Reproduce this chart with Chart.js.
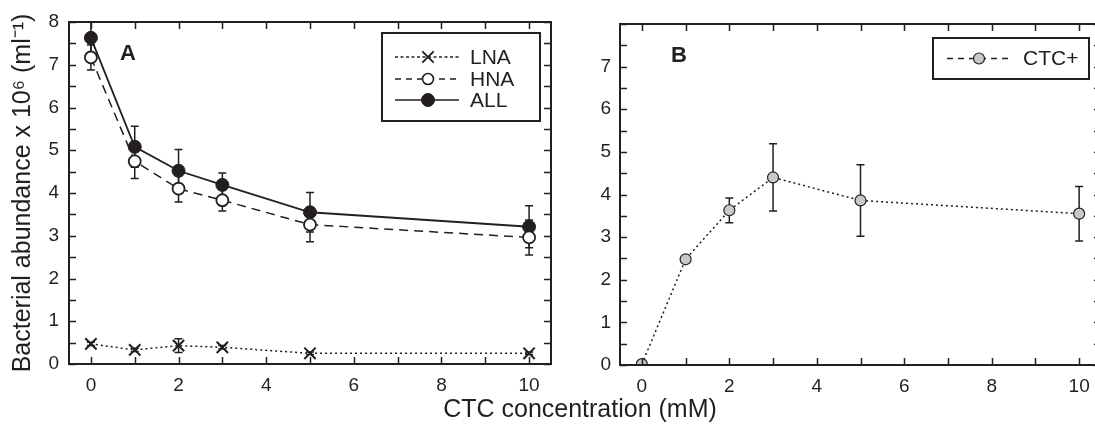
<!DOCTYPE html>
<html>
<head>
<meta charset="utf-8">
<script src="https://cdn.jsdelivr.net/npm/chart.js@4.4.0/dist/chart.umd.min.js"></script>
<style>
html, body { margin: 0; padding: 0; background: #fff; overflow: hidden; }
#wrap { position: relative; width: 1095px; height: 426px; overflow: hidden; }
canvas { position: absolute; top: 0; }
#chartA { left: 0; }
#chartB { left: 560px; }
#xTitle {
  position: absolute; left: 380px; width: 400px; top: 394px; line-height: 28px;
  text-align: center; font-size: 25px; font-family: "Liberation Sans", Arial, Helvetica, sans-serif; color: #231f20;
}
</style>
</head>
<body>
<div id="wrap">
  <canvas id="chartA" width="570" height="426"></canvas>
  <canvas id="chartB" width="560" height="426"></canvas>
  <div id="xTitle">CTC concentration (mM)</div>
</div>
<script>
// data
var conc = [0, 1, 2, 3, 5, 10];

var lna = [0.47, 0.33, 0.43, 0.39, 0.25, 0.25];
var lnaErr = [0.04, 0.04, 0.16, 0.04, 0.03, 0.03];
var hna = [7.17, 4.74, 4.1, 3.83, 3.26, 2.96];
var hnaErr = [0.29, 0.4, 0.31, 0.25, 0.4, 0.41];
var all = [7.63, 5.08, 4.52, 4.19, 3.55, 3.21];
var allErr = [0.4, 0.48, 0.5, 0.28, 0.46, 0.49];

var ctc = [0.02, 2.48, 3.63, 4.4, 3.86, 3.55];
var ctcErr = [0, 0, 0.29, 0.79, 0.84, 0.64];

var xTickValues = [0, 1, 2, 3, 4, 5, 6, 7, 8, 9, 10];
var xTickLabels = ["0", "", "2", "", "4", "", "6", "", "8", "", "10"];
var yTickValues = [0, 0.5, 1, 1.5, 2, 2.5, 3, 3.5, 4, 4.5, 5, 5.5, 6, 6.5, 7, 7.5, 8];
var yTickLabelsA = ["0", "", "1", "", "2", "", "3", "", "4", "", "5", "", "6", "", "7", "", "8"];
var yTickLabelsB = ["0", "", "1", "", "2", "", "3", "", "4", "", "5", "", "6", "", "7", "", ""];

var ink = "#231f20";
var gray = "#c8c8c8";
var fontFam = '"Liberation Sans", Arial, Helvetica, sans-serif';

Chart.defaults.font.family = fontFam;
Chart.defaults.color = ink;

function pts(xs, ys) {
  return xs.map(function (x, i) { return { x: x, y: ys[i] }; });
}

// error bars, frame, inward ticks, legend box, panel letter
var decoPlugin = {
  id: "deco",
  beforeDatasetsDraw: function (chart) {
    var ctx = chart.ctx, a = chart.chartArea;
    var xs = chart.scales.x, ys = chart.scales.y;
    ctx.save();
    ctx.beginPath();
    ctx.rect(a.left, a.top - 1, a.right - a.left, a.bottom - a.top + 2);
    ctx.clip();
    ctx.strokeStyle = ink;
    ctx.lineWidth = 1.5;
    ctx.setLineDash([]);
    chart.data.datasets.forEach(function (ds) {
      if (!ds.errs) return;
      ds.data.forEach(function (p, i) {
        var e = ds.errs[i];
        if (!e) return;
        var px = xs.getPixelForValue(p.x);
        var y1 = ys.getPixelForValue(p.y + e);
        var y2 = ys.getPixelForValue(p.y - e);
        ctx.beginPath();
        ctx.moveTo(px, y1); ctx.lineTo(px, y2);
        ctx.moveTo(px - 4, y1); ctx.lineTo(px + 4, y1);
        ctx.moveTo(px - 4, y2); ctx.lineTo(px + 4, y2);
        ctx.stroke();
      });
    });
    ctx.restore();
  },
  afterDraw: function (chart, args, opts) {
    var ctx = chart.ctx, a = chart.chartArea;
    var xs = chart.scales.x, ys = chart.scales.y;
    ctx.save();
    ctx.strokeStyle = ink;
    ctx.setLineDash([]);
    // frame
    ctx.lineWidth = 2;
    ctx.strokeRect(a.left, a.top, a.right - a.left, a.bottom - a.top);
    // ticks pointing in
    ctx.lineWidth = 1.5;
    ctx.beginPath();
    xTickValues.forEach(function (v) {
      var px = Math.round(xs.getPixelForValue(v)) + 0.5;
      ctx.moveTo(px, a.bottom); ctx.lineTo(px, a.bottom - 7);
      ctx.moveTo(px, a.top); ctx.lineTo(px, a.top + 7);
    });
    yTickValues.forEach(function (v) {
      var py = Math.round(ys.getPixelForValue(v)) + 0.5;
      ctx.moveTo(a.left, py); ctx.lineTo(a.left + 7, py);
      ctx.moveTo(a.right, py); ctx.lineTo(a.right - 7, py);
    });
    ctx.stroke();

    // legend
    var b = opts.box;
    ctx.lineWidth = 2;
    ctx.fillStyle = "#fff";
    ctx.fillRect(b[0], b[1], b[2] - b[0], b[3] - b[1]);
    ctx.strokeRect(b[0], b[1], b[2] - b[0], b[3] - b[1]);
    opts.rows.forEach(function (r) {
      ctx.lineWidth = 1.5;
      ctx.setLineDash(r.dash);
      ctx.beginPath();
      ctx.moveTo(opts.lineX[0], r.y); ctx.lineTo(opts.lineX[1], r.y);
      ctx.stroke();
      ctx.setLineDash([]);
      ctx.fillStyle = r.fill;
      ctx.strokeStyle = ink;
      ctx.lineWidth = r.bw;
      Chart.helpers.drawPoint(ctx, { pointStyle: r.style, radius: r.radius, borderWidth: r.bw, rotation: 0 }, opts.markX, r.y);
      ctx.fillStyle = ink;
      ctx.font = "21px " + fontFam;
      ctx.textAlign = "left";
      ctx.textBaseline = "middle";
      ctx.fillText(r.label, opts.textX, r.y + 1);
    });

    // panel letter
    ctx.fillStyle = ink;
    ctx.font = "bold 22px " + fontFam;
    ctx.textAlign = "center";
    ctx.textBaseline = "middle";
    ctx.fillText(opts.letter, opts.letterPos[0], opts.letterPos[1]);
    ctx.restore();
  }
};

function xScale(h) {
  return {
    type: "linear", min: -0.5, max: 10.5,
    afterBuildTicks: function (s) { s.ticks = xTickValues.map(function (v) { return { value: v }; }); },
    afterFit: function (s) { s.height = h; },
    grid: { display: false, drawTicks: false }, border: { display: false },
    ticks: {
      autoSkip: false, maxRotation: 0, padding: 10, color: ink, font: { size: 19 },
      callback: function (v, i) { return xTickLabels[i]; }
    }
  };
}

function yScale(w, labels, pad) {
  return {
    type: "linear", min: 0, max: 8,
    afterBuildTicks: function (s) { s.ticks = yTickValues.map(function (v) { return { value: v }; }); },
    afterFit: function (s) { s.width = w; },
    grid: { display: false, drawTicks: false }, border: { display: false },
    ticks: {
      autoSkip: false, padding: pad, color: ink, font: { size: 19 },
      callback: function (v, i) { return labels[i]; }
    }
  };
}

// panel A
var yA = yScale(69, yTickLabelsA, 10);
yA.title = {
  display: true, text: "Bacterial abundance x 10\u2076 (ml\u207B\u00B9)",
  color: ink, font: { size: 25 }, padding: { top: 8, bottom: 0 }
};

new Chart(document.getElementById("chartA"), {
  type: "scatter",
  data: {
    datasets: [
      {
        label: "LNA", data: pts(conc, lna), errs: lnaErr, showLine: true,
        borderColor: ink, borderWidth: 1.5, borderDash: [2, 3],
        pointStyle: "crossRot", pointRadius: 8, pointBorderWidth: 2,
        pointBorderColor: ink, pointBackgroundColor: ink
      },
      {
        label: "HNA", data: pts(conc, hna), errs: hnaErr, showLine: true,
        borderColor: ink, borderWidth: 1.5, borderDash: [9, 6],
        pointStyle: "circle", pointRadius: 6, pointBorderWidth: 1.8,
        pointBorderColor: ink, pointBackgroundColor: "#fff"
      },
      {
        label: "ALL", data: pts(conc, all), errs: allErr, showLine: true,
        borderColor: ink, borderWidth: 1.8,
        pointStyle: "circle", pointRadius: 6.5, pointBorderWidth: 1,
        pointBorderColor: ink, pointBackgroundColor: ink
      }
    ]
  },
  options: {
    responsive: false, animation: false,
    layout: { padding: { top: 22, right: 19, left: 0, bottom: 0 } },
    scales: { x: xScale(62), y: yA },
    plugins: {
      legend: { display: false }, tooltip: { enabled: false },
      deco: {
        letter: "A", letterPos: [128, 54],
        box: [382, 33, 540, 121], lineX: [395, 459], markX: 428, textX: 470,
        rows: [
          { label: "LNA", y: 57, dash: [3, 2.5], style: "crossRot", radius: 8, bw: 1.8, fill: ink },
          { label: "HNA", y: 79, dash: [6, 5], style: "circle", radius: 5.5, bw: 1.6, fill: "#fff" },
          { label: "ALL", y: 100, dash: [], style: "circle", radius: 6.5, bw: 1, fill: ink }
        ]
      }
    }
  },
  plugins: [decoPlugin]
});

// panel B
new Chart(document.getElementById("chartB"), {
  type: "scatter",
  data: {
    datasets: [
      {
        label: "CTC+", data: pts(conc, ctc), errs: ctcErr, showLine: true,
        borderColor: ink, borderWidth: 1.5, borderDash: [2, 3],
        pointStyle: "circle", pointRadius: 5.5, pointBorderWidth: 1.2,
        pointBorderColor: ink, pointBackgroundColor: gray
      }
    ]
  },
  options: {
    responsive: false, animation: false,
    layout: { padding: { top: 24, right: 19, left: 0, bottom: 0 } },
    scales: { x: xScale(61), y: yScale(60, yTickLabelsB, 9) },
    plugins: {
      legend: { display: false }, tooltip: { enabled: false },
      deco: {
        letter: "B", letterPos: [119, 56],
        box: [373, 38, 529, 79], lineX: [387, 450], markX: 419, textX: 463,
        rows: [
          { label: "CTC+", y: 58.5, dash: [6, 5], style: "circle", radius: 5.5, bw: 1.2, fill: gray }
        ]
      }
    }
  },
  plugins: [decoPlugin]
});
</script>
</body>
</html>
